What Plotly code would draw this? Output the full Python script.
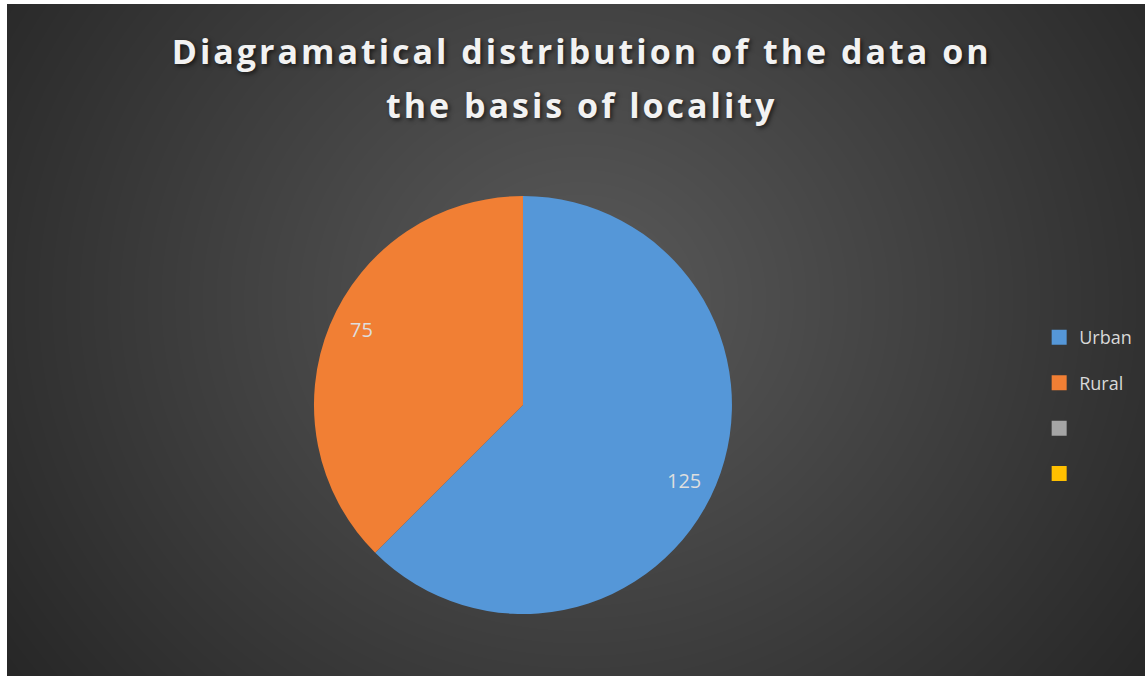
import numpy as np
import plotly.graph_objects as go

# ---- data ----
categories = ["Urban", "Rural", " ", "  "]
values = [125, 75]
slice_colors = ["#5597d8", "#f17f34"]
legend_colors = ["#5597d8", "#f17f34", "#a5a5a5", "#ffc000"]
title_line1 = "Diagramatical distribution of the data on"
title_line2 = "the basis of locality"

W, H = 1145, 676
ML, MT = 7, 4
pie_dom_x = [0.2697, 0.6371]
pie_dom_y = [0.0923, 0.7143]

# ---- background radial gradient (decoration) ----
gx = np.linspace(0, W, 116)
gy = np.linspace(0, H, 69)
X, Y = np.meshgrid(gx, gy)
d = np.clip(np.hypot(X - 580, (Y - 300) * 1.1) / 700, 0, 1)
bg = 90 - 51 * d

fig = go.Figure()
fig.add_trace(go.Heatmap(
    x=gx, y=gy, z=bg, zmin=0, zmax=255,
    colorscale=[[0, "rgb(0,0,0)"], [1, "rgb(255,255,255)"]],
    showscale=False, zsmooth="best", hoverinfo="skip",
))

fig.add_trace(go.Pie(
    labels=categories[:2], values=values,
    marker=dict(colors=slice_colors, line=dict(width=0)),
    sort=False, direction="clockwise", rotation=0,
    textinfo="none",
    domain=dict(x=pie_dom_x, y=pie_dom_y),
    showlegend=False,
))

# data labels near the rim, at each slice's mid angle (axes are in pixel units)
pw, ph = W - ML, H - MT
cxp = ML + (pie_dom_x[0] + pie_dom_x[1]) / 2 * pw
cyp = MT + (1 - (pie_dom_y[0] + pie_dom_y[1]) / 2) * ph
R = min((pie_dom_x[1] - pie_dom_x[0]) * pw, (pie_dom_y[1] - pie_dom_y[0]) * ph) / 2
total = sum(values)
cum = 0
for v in values:
    mid = (cum + v / 2) / total * 2 * np.pi + np.radians(2.5)
    cum += v
    r = 0.85 * R
    fig.add_annotation(
        x=cxp + r * np.sin(mid), y=cyp - r * np.cos(mid),
        xref="x", yref="y", text=str(v), showarrow=False,
        font=dict(family="Open Sans", size=20, color="#dedede"),
    )

for name, col in zip(categories, legend_colors):
    fig.add_trace(go.Scatter(
        x=[None], y=[None], mode="markers", name=name, legendgroup=name,
        marker=dict(symbol="square", size=15, color=col), showlegend=True,
    ))

title_font = dict(family="Open Sans", size=34, weight=700, color="#f2f2f2",
                  shadow="2px 2px 4px rgba(0,0,0,0.6)")

fig.add_annotation(
    x=0.508 * W, y=105, xref="x", yref="y", xanchor="center", yanchor="middle",
    text='<span style="letter-spacing:3px">' + title_line2 + '</span>',
    showarrow=False, font=title_font,
)

fig.update_layout(
    width=W, height=H,
    margin=dict(l=ML, r=0, t=MT, b=0),
    paper_bgcolor="white", plot_bgcolor="#333333",
    xaxis=dict(range=[ML, W], visible=False, fixedrange=True),
    yaxis=dict(range=[H, MT], visible=False, fixedrange=True),
    title=dict(
        text='<span style="letter-spacing:3px">' + title_line1 + '</span>',
        x=0.508, xref="container", xanchor="center",
        y=1 - 40 / H, yref="container", yanchor="top",
        font=title_font,
    ),
    legend=dict(
        x=0.907, xanchor="left", y=0.531, yanchor="top",
        font=dict(family="Open Sans", size=18, color="#d9d9d9"),
        traceorder="grouped", tracegroupgap=19,
        bgcolor="rgba(0,0,0,0)",
    ),
)

fig.write_html("out.html")
